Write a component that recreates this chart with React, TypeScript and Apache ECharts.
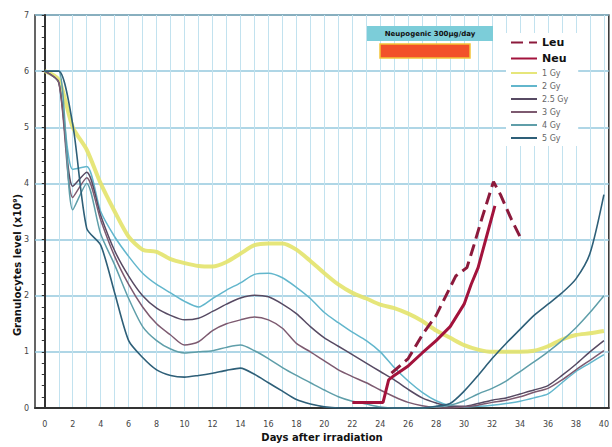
import React, { useEffect, useRef } from "react";
import * as echarts from "echarts";

const days = Array.from({ length: 41 }, (_, i) => i);
const xLabelDays = [0, 2, 4, 6, 8, 10, 12, 14, 16, 18, 20, 22, 24, 26, 28, 30, 32, 34, 36, 38, 40];

const gy1 = [6, 5.85, 5.0, 4.6, 4.0, 3.5, 3.05, 2.82, 2.78, 2.65, 2.58, 2.53, 2.52, 2.6, 2.75, 2.9, 2.93, 2.93, 2.82, 2.62, 2.4, 2.2, 2.05, 1.95, 1.84, 1.78, 1.68, 1.55, 1.38, 1.25, 1.12, 1.04, 1.0, 1.0, 1.0, 1.02, 1.1, 1.22, 1.3, 1.33, 1.37];
const gy2 = [6, 5.8, 4.25, 4.3, 3.5, 3.05, 2.7, 2.4, 2.2, 2.05, 1.9, 1.8, 1.95, 2.1, 2.23, 2.38, 2.4, 2.32, 2.15, 1.95, 1.7, 1.52, 1.35, 1.2, 1.0, 0.72, 0.48, 0.28, 0.13, 0.04, 0.02, 0.03, 0.05, 0.08, 0.12, 0.18, 0.25, 0.45, 0.65, 0.8, 0.95];
const gy25 = [6, 5.8, 3.95, 4.2, 3.43, 2.8, 2.35, 2.0, 1.78, 1.65, 1.57, 1.6, 1.72, 1.85, 1.96, 2.01, 1.98, 1.85, 1.68, 1.45, 1.25, 1.1, 0.95, 0.8, 0.65, 0.5, 0.33, 0.18, 0.09, 0.03, 0.03, 0.08, 0.14, 0.18, 0.25, 0.32, 0.4, 0.58, 0.78, 1.0, 1.2];
const gy3 = [6, 5.8, 3.75, 4.1, 3.35, 2.7, 2.2, 1.8, 1.5, 1.3, 1.12, 1.18, 1.38, 1.5, 1.57, 1.62, 1.57, 1.42, 1.15, 1.0, 0.84, 0.68, 0.56, 0.45, 0.32, 0.2, 0.1, 0.04, 0.01, 0, 0.02, 0.05, 0.1, 0.14, 0.2, 0.28, 0.35, 0.5, 0.68, 0.85, 1.02];
const gy4 = [6, 6, 3.53, 4.0, 3.1, 2.55, 1.95, 1.45, 1.2, 1.05, 0.98, 1.0, 1.02, 1.08, 1.12, 1.02, 0.88, 0.72, 0.58, 0.45, 0.32, 0.2, 0.12, 0.07, 0.02, 0, 0, 0, 0.02, 0.05, 0.13, 0.25, 0.35, 0.48, 0.65, 0.82, 1.0, 1.2, 1.43, 1.7, 2.0];
const gy5 = [6, 6, 5.05, 3.2, 2.9, 2.05, 1.2, 0.9, 0.68, 0.58, 0.55, 0.58, 0.62, 0.67, 0.71, 0.6, 0.45, 0.3, 0.15, 0.07, 0.02, 0, 0, 0, 0, 0, 0, 0, 0.03, 0.08, 0.3, 0.58, 0.88, 1.15, 1.4, 1.65, 1.85, 2.05, 2.3, 2.75, 3.8];

const neuDays = [22, 24.2, 24.6, 25, 26, 27, 28, 29, 30, 30.5, 31, 31.6, 32.2];
const neuValues = [0.1, 0.1, 0.5, 0.58, 0.75, 0.98, 1.2, 1.45, 1.85, 2.2, 2.5, 3.05, 3.6];
const leuDays = [24.8, 26, 27, 28, 29, 29.4, 30.2, 30.7, 31.3, 32.1, 32.6, 33.4, 34.1];
const leuValues = [0.62, 0.88, 1.3, 1.65, 2.15, 2.35, 2.5, 2.9, 3.4, 4.03, 3.8, 3.35, 3.0];

const doseNames = ["1 Gy", "2 Gy", "2.5 Gy", "3 Gy", "4 Gy", "5 Gy"];
const doseValues = [gy1, gy2, gy25, gy3, gy4, gy5];
const doseColors = ["#e3e36c", "#62b6cc", "#574a63", "#7d5a70", "#5f9ea9", "#2e5f78"];
const doseWidths = [4, 1.5, 1.5, 1.5, 1.5, 1.6];

const zip = (xs: number[], ys: number[]) => xs.map((x, i) => [x, ys[i]]);

export default function App() {
  const ref = useRef<HTMLDivElement>(null);
  useEffect(() => {
    if (!ref.current) return;
    const chart = echarts.init(ref.current, null, { renderer: "svg" });
    const doseSeries = doseNames.map((name, i) => ({
      name,
      type: "line",
      data: zip(days, doseValues[i]),
      symbol: "none",
      smooth: 0.25,
      lineStyle: { color: doseColors[i], width: doseWidths[i], opacity: i === 0 ? 0.9 : 1 },
      itemStyle: { color: doseColors[i] },
      z: i === 0 ? 2 : 3,
    }));
    const smallText = { fontSize: 8, color: "#666", fontFamily: "DejaVu Sans" };
    const bigText = { fontSize: 11, fontWeight: "bold", color: "#111", fontFamily: "DejaVu Sans" };
    chart.setOption({
      animation: false,
      backgroundColor: "#ffffff",
      grid: { left: 35, right: 3, top: 15, bottom: 39, show: true, borderColor: "#333", borderWidth: 1.5 },
      xAxis: {
        type: "value",
        min: -0.7,
        max: 40.35,
        axisLine: { show: true, lineStyle: { color: "#333", width: 2 } },
        axisTick: { show: false, customValues: days },
        axisLabel: { customValues: xLabelDays, fontSize: 8, color: "#444", margin: 12, fontFamily: "DejaVu Sans" },
        splitLine: { show: true, lineStyle: { color: "#c2e2ef", width: 1 } },
      },
      yAxis: {
        type: "value",
        min: 0,
        max: 7,
        interval: 1,
        axisLine: { show: true, lineStyle: { color: "#333", width: 2 } },
        axisTick: { show: true, length: 3, lineStyle: { color: "#333" } },
        minorTick: { show: true, splitNumber: 5, length: 3, lineStyle: { color: "#333" } },
        axisLabel: { fontSize: 8, color: "#444", margin: 6, fontFamily: "DejaVu Sans" },
        splitLine: { show: true, lineStyle: { color: "#95c9de", width: 1.5 } },
      },
      legend: {
        orient: "vertical",
        left: 506,
        top: 33,
        itemWidth: 26,
        itemHeight: 10,
        itemGap: 5,
        backgroundColor: "#ffffff",
        padding: [4, 10, 4, 4],
        itemStyle: { opacity: 0 },
        textStyle: smallText,
        data: [
          { name: "Leu", textStyle: bigText },
          { name: "Neu", textStyle: bigText },
          ...doseNames.map((n) => ({ name: n, textStyle: smallText })),
        ],
      },
      graphic: [
        {
          type: "rect",
          shape: { x: 367, y: 26, width: 126, height: 15 },
          style: { fill: "#7ccdd9" },
          z: 10,
        },
        {
          type: "text",
          x: 430,
          y: 34,
          style: {
            text: "Neupogenic 300μg/day",
            fontSize: 7,
            fontWeight: "bold",
            fill: "#111",
            align: "center",
            verticalAlign: "middle",
            fontFamily: "DejaVu Sans",
          },
          z: 11,
        },
        {
          type: "rect",
          shape: { x: 380, y: 44, width: 90, height: 14 },
          style: { fill: "#f2512a", stroke: "#f3c437", lineWidth: 1.5 },
          z: 10,
        },
        {
          type: "text",
          x: 17,
          y: 265,
          rotation: Math.PI / 2,
          style: {
            text: "Granulocytes level (x10⁹)",
            fontSize: 10,
            fontWeight: "bold",
            fill: "#111",
            align: "center",
            verticalAlign: "middle",
            fontFamily: "DejaVu Sans",
          },
        },
        {
          type: "text",
          x: 322,
          y: 437,
          style: {
            text: "Days after irradiation",
            fontSize: 10,
            fontWeight: "bold",
            fill: "#111",
            align: "center",
            verticalAlign: "middle",
            fontFamily: "DejaVu Sans",
          },
        },
      ],
      series: [
        ...doseSeries,
        {
          name: "Neu",
          type: "line",
          data: zip(neuDays, neuValues),
          symbol: "none",
          lineStyle: { color: "#a3133c", width: 3 },
          itemStyle: { color: "#a3133c" },
          z: 5,
        },
        {
          name: "Leu",
          type: "line",
          data: zip(leuDays, leuValues),
          symbol: "none",
          lineStyle: { color: "#8c1a3c", width: 3, type: [12, 6] },
          itemStyle: { color: "#8c1a3c" },
          z: 5,
        },
      ],
    });
    return () => chart.dispose();
  }, []);
  return <div ref={ref} style={{ position: "fixed", left: 0, top: 0, width: 612, height: 447 }} />;
}
